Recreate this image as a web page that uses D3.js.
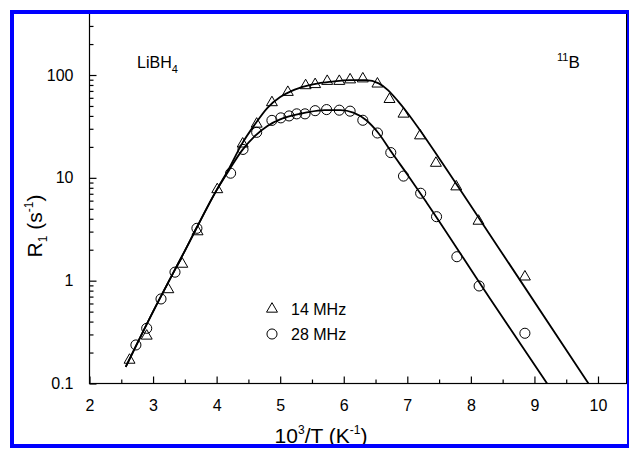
<!DOCTYPE html>
<html>
<head>
<meta charset="utf-8">
<script src="https://cdn.jsdelivr.net/npm/d3@7"></script>
<style>
  body { margin: 0; background: #fff; }
  svg { font-family: Arial, "Liberation Sans", sans-serif; }
</style>
</head>
<body>
<svg width="629" height="449"></svg>
<script>
// 14 MHz data (triangles)
var x14 = [2.63, 2.90, 3.24, 3.46, 3.70, 4.01, 4.41, 4.63, 4.87, 5.12, 5.40, 5.55, 5.74, 5.93, 6.10, 6.30, 6.53, 6.72, 6.94, 7.20, 7.45, 7.77, 8.12, 8.85];
var r14 = [0.169, 0.29, 0.82, 1.45, 3.0, 7.7, 21.4, 33.4, 54, 68, 79, 81, 87, 87, 90, 92, 82, 58, 41.8, 25.7, 13.9, 8.2, 3.8, 1.09];
// 28 MHz data (circles)
var x28 = [2.73, 2.90, 3.125, 3.345, 3.69, 4.22, 4.415, 4.63, 4.87, 5.01, 5.14, 5.26, 5.39, 5.55, 5.73, 5.93, 6.10, 6.30, 6.53, 6.74, 6.94, 7.21, 7.46, 7.78, 8.13, 8.85];
var r28 = [0.237, 0.344, 0.664, 1.21, 3.23, 11.1, 18.9, 27.7, 36.2, 38.3, 40.0, 41.9, 41.9, 45.0, 46.1, 45.5, 44.5, 36.3, 27.3, 17.6, 10.4, 7.08, 4.19, 1.71, 0.888, 0.308];

// fit curves
var fitX14 = [2.57, 3.0, 3.5, 4.0, 4.2, 4.4, 4.6, 4.8, 5.0, 5.2, 5.4, 5.6, 5.8, 6.1, 6.35, 6.55, 6.7, 6.85, 7.0, 7.2, 7.5, 8.5, 9.85];
var fitR14 = [0.145, 0.50, 1.95, 7.6, 12.5, 21.5, 33, 48, 61, 71, 78, 83, 86, 89, 89, 83, 71, 56, 43, 29, 15.5, 1.82, 0.1];
var fitX28 = [2.57, 3.0, 3.5, 4.0, 4.2, 4.4, 4.6, 4.8, 5.0, 5.2, 5.4, 5.7, 5.95, 6.15, 6.35, 6.55, 6.75, 7.0, 7.3, 8.3, 9.2];
var fitR28 = [0.145, 0.50, 1.95, 7.6, 12, 18.5, 25.5, 32, 37, 40.5, 43, 45.5, 45.5, 43, 36.5, 27, 17.8, 10.8, 5.8, 0.67, 0.1];

var xTicks = [2, 3, 4, 5, 6, 7, 8, 9, 10];
var yTicks = [0.1, 1, 10, 100];

var svg = d3.select("svg");

var x = d3.scaleLinear().domain([2, 10.45]).range([89.5, 626.6]);
var y = d3.scaleLog().domain([0.1, 400]).range([383.5, 13.1]);

// minor ticks
var xMinor = d3.range(2.5, 10.45, 1);
var yMinor = [];
yTicks.forEach(function (d) {
    for (var k = 2; k <= 9; k++) if (d * k < 400) yMinor.push(d * k);
});

var g = svg.append("g");

// frame
g.append("rect")
    .attr("x", x(2)).attr("y", y(400))
    .attr("width", x(10.45) - x(2)).attr("height", y(0.1) - y(400))
    .attr("fill", "none").attr("stroke", "#000").attr("stroke-width", 1.2);

// x axis
g.append("g")
    .attr("transform", "translate(0," + y(0.1) + ")")
    .call(d3.axisBottom(x).tickValues(xTicks).tickSize(-7).tickPadding(16).tickFormat(d3.format("d")));
g.append("g")
    .attr("transform", "translate(0," + y(0.1) + ")")
    .call(d3.axisBottom(x).tickValues(xMinor).tickSize(-4).tickFormat(""));

// y axis
g.append("g")
    .attr("transform", "translate(" + x(2) + ",0)")
    .call(d3.axisLeft(y).tickValues(yTicks).tickSize(-7).tickPadding(16).tickFormat(function (d) { return d < 1 ? "0.1" : d3.format("d")(d); }));
g.append("g")
    .attr("transform", "translate(" + x(2) + ",0)")
    .call(d3.axisLeft(y).tickValues(yMinor).tickSize(-4).tickFormat(""));

g.selectAll(".domain").remove();
g.selectAll(".tick line").attr("stroke", "#000").attr("stroke-width", 1.2);
g.selectAll(".tick text").attr("font-size", 16).attr("fill", "#000")
    .attr("font-family", "Arial, 'Liberation Sans', sans-serif");

// clip for curves
svg.append("clipPath").attr("id", "clip").append("rect")
    .attr("x", x(2)).attr("y", y(400))
    .attr("width", x(10.45) - x(2)).attr("height", y(0.1) - y(400));

var line = d3.line()
    .x(function (d) { return x(d[0]); })
    .y(function (d) { return y(d[1]); })
    .curve(d3.curveMonotoneX);

var plot = svg.append("g").attr("clip-path", "url(#clip)");

plot.append("path")
    .datum(d3.zip(fitX14, fitR14))
    .attr("d", line)
    .attr("fill", "none").attr("stroke", "#000").attr("stroke-width", 1.8);
plot.append("path")
    .datum(d3.zip(fitX28, fitR28))
    .attr("d", line)
    .attr("fill", "none").attr("stroke", "#000").attr("stroke-width", 1.8);

var tri = d3.symbol().type(d3.symbolTriangle).size(52);
var circ = d3.symbol().type(d3.symbolCircle).size(80);

plot.selectAll(".tri")
    .data(d3.zip(x14, r14))
    .enter().append("path")
    .attr("class", "tri")
    .attr("d", tri)
    .attr("transform", function (d) { return "translate(" + x(d[0]) + "," + y(d[1]) + ")"; })
    .attr("fill", "none").attr("stroke", "#000").attr("stroke-width", 1);

plot.selectAll(".circ")
    .data(d3.zip(x28, r28))
    .enter().append("path")
    .attr("class", "circ")
    .attr("d", circ)
    .attr("transform", function (d) { return "translate(" + x(d[0]) + "," + y(d[1]) + ")"; })
    .attr("fill", "none").attr("stroke", "#000").attr("stroke-width", 1);

// legend
var leg = svg.append("g");
leg.append("path").attr("d", tri).attr("transform", "translate(272,309)")
    .attr("fill", "none").attr("stroke", "#000");
leg.append("text").attr("x", 291).attr("y", 315).attr("font-size", 16).text("14 MHz");
leg.append("path").attr("d", circ).attr("transform", "translate(272,334)")
    .attr("fill", "none").attr("stroke", "#000");
leg.append("text").attr("x", 291).attr("y", 340).attr("font-size", 16).text("28 MHz");

// annotations
var t1 = svg.append("text").attr("x", 137).attr("y", 68).attr("font-size", 16);
t1.append("tspan").text("LiBH");
t1.append("tspan").attr("font-size", 11).attr("dy", 5).text("4");

var t2 = svg.append("text").attr("x", 557).attr("y", 68).attr("font-size", 17);
t2.append("tspan").attr("font-size", 11).attr("dy", -7).text("11");
t2.append("tspan").attr("dy", 7).text("B");

// axis titles
var xt = svg.append("text").attr("x", 321).attr("y", 443).attr("text-anchor", "middle").attr("font-size", 21);
xt.append("tspan").text("10");
xt.append("tspan").attr("font-size", 12).attr("dy", -9).text("3");
xt.append("tspan").attr("dy", 9).text("/T  (K");
xt.append("tspan").attr("font-size", 12).attr("dy", -9).text("-1");
xt.append("tspan").attr("dy", 9).text(")");

var yt = svg.append("text")
    .attr("transform", "translate(42,226) rotate(-90)")
    .attr("text-anchor", "middle").attr("font-size", 21);
yt.append("tspan").text("R");
yt.append("tspan").attr("font-size", 12).attr("dy", 5).text("1");
yt.append("tspan").attr("dy", -5).text("  (s");
yt.append("tspan").attr("font-size", 12).attr("dy", -9).text("-1");
yt.append("tspan").attr("dy", 9).text(")");

// blue border
svg.append("rect")
    .attr("x", 12).attr("y", 12).attr("width", 617).attr("height", 434)
    .attr("fill", "none").attr("stroke", "#0000ff").attr("stroke-width", 4);
</script>
</body>
</html>
